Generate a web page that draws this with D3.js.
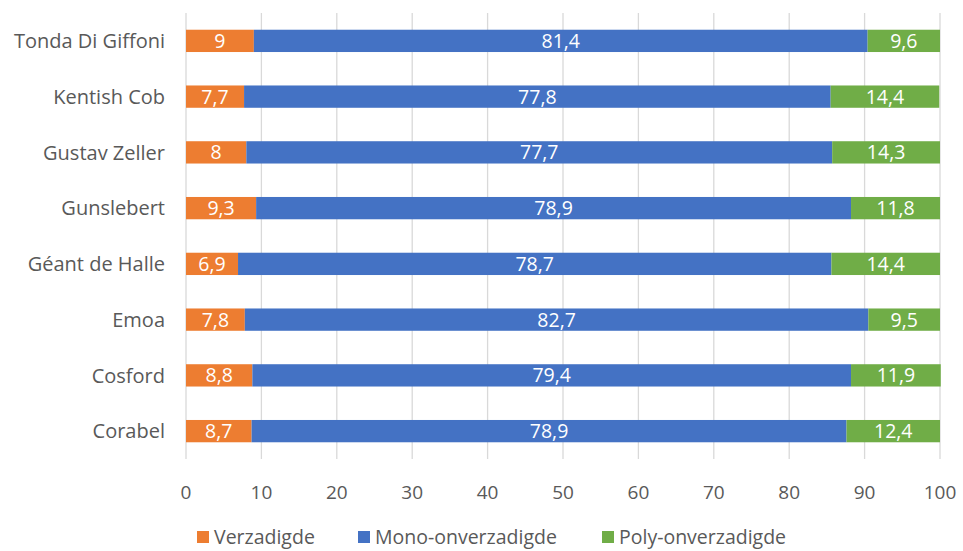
<!DOCTYPE html>
<html>
<head>
<meta charset="utf-8">
<script src="https://cdn.jsdelivr.net/npm/d3@7"></script>
<style>
  body { margin: 0; background: #fff; }
  text { font-family: "Open Sans", "Noto Sans", sans-serif; }
</style>
</head>
<body>
<div id="chart"></div>
<script>
// data
var categories = ["Tonda Di Giffoni", "Kentish Cob", "Gustav Zeller", "Gunslebert",
                  "Géant de Halle", "Emoa", "Cosford", "Corabel"];
var verzadigde = [9, 7.7, 8, 9.3, 6.9, 7.8, 8.8, 8.7];
var mono = [81.4, 77.8, 77.7, 78.9, 78.7, 82.7, 79.4, 78.9];
var poly = [9.6, 14.4, 14.3, 11.8, 14.4, 9.5, 11.9, 12.4];
var seriesNames = ["Verzadigde", "Mono-onverzadigde", "Poly-onverzadigde"];
var colors = ["#ED7D31", "#4472C4", "#70AD47"];
var xTicks = [0, 10, 20, 30, 40, 50, 60, 70, 80, 90, 100];

var W = 963, H = 551;
var svg = d3.select("#chart").append("svg")
  .attr("width", W).attr("height", H);

var x = d3.scaleLinear().domain([0, 100]).range([186, 940]);
var y = d3.scaleBand().domain(categories).range([13, 459]).paddingInner(0.6).paddingOuter(0.3);

// gridlines
svg.append("g").selectAll("line")
  .data(xTicks).enter().append("line")
  .attr("x1", function(d) { return x(d); })
  .attr("x2", function(d) { return x(d); })
  .attr("y1", 13).attr("y2", 459)
  .attr("stroke", "#d9d9d9").attr("stroke-width", 1.3);

// stacked bars
var rows = categories.map(function(c, i) {
  return { cat: c, v: [verzadigde[i], mono[i], poly[i]] };
});

var fmt = function(v) { return String(v).replace(".", ","); };

rows.forEach(function(r) {
  var start = 0;
  r.v.forEach(function(v, k) {
    svg.append("rect")
      .attr("x", x(start))
      .attr("y", y(r.cat))
      .attr("width", x(start + v) - x(start))
      .attr("height", y.bandwidth())
      .attr("fill", colors[k]);
    svg.append("text")
      .attr("x", (x(start) + x(start + v)) / 2)
      .attr("y", y(r.cat) + y.bandwidth() / 2)
      .attr("dy", "0.36em")
      .attr("text-anchor", "middle")
      .attr("fill", "#fff")
      .attr("font-size", 19.5)
      .text(fmt(v));
    start += v;
  });
});

// category labels
svg.append("g").selectAll("text")
  .data(categories).enter().append("text")
  .attr("x", 165)
  .attr("y", function(d) { return y(d) + y.bandwidth() / 2; })
  .attr("dy", "0.36em")
  .attr("text-anchor", "end")
  .attr("fill", "#595959")
  .attr("font-size", 20)
  .text(function(d) { return d; });

// x tick labels
svg.append("g").selectAll("text")
  .data(xTicks).enter().append("text")
  .attr("x", function(d) { return x(d); })
  .attr("y", 492)
  .attr("dy", "0.36em")
  .attr("text-anchor", "middle")
  .attr("fill", "#595959")
  .attr("font-size", 19)
  .text(function(d) { return d; });

// legend
var legendX = [197, 358, 602];
var lg = svg.append("g").selectAll("g")
  .data(seriesNames).enter().append("g")
  .attr("transform", function(d, i) { return "translate(" + legendX[i] + ",537)"; });
lg.append("rect").attr("x", 0).attr("y", -6).attr("width", 12).attr("height", 12)
  .attr("fill", function(d, i) { return colors[i]; });
lg.append("text").attr("x", 17).attr("dy", "0.36em")
  .attr("fill", "#595959").attr("font-size", 19.5)
  .text(function(d) { return d; });
</script>
</body>
</html>
